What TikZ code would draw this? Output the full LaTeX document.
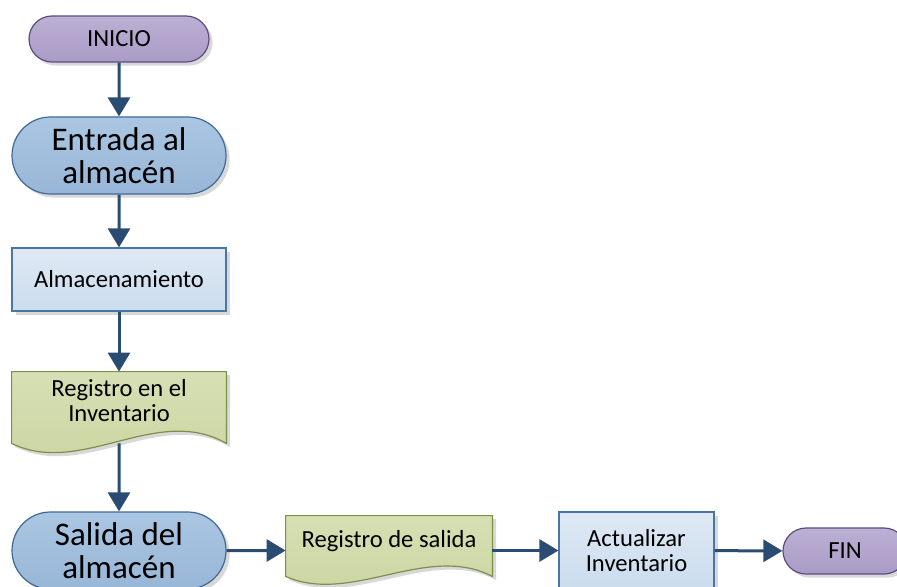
\documentclass[tikz,border=0pt]{standalone}
\usepackage{fontspec}
\setmainfont{Carlito}
\usetikzlibrary{shapes.misc,shadows,arrows.meta}

\definecolor{flechaC}{HTML}{2B4C72}
\definecolor{lilaT}{HTML}{BCB0D4}
\definecolor{lilaF}{HTML}{AA9BC6}
\definecolor{lilaB}{HTML}{5E4C80}
\definecolor{azulT}{HTML}{AAC6E2}
\definecolor{azulF}{HTML}{98B6D7}
\definecolor{azulB}{HTML}{3F6A98}
\definecolor{celesteT}{HTML}{DFE9F4}
\definecolor{celesteF}{HTML}{CADCEE}
\definecolor{celesteB}{HTML}{4A76A6}
\definecolor{verdeT}{HTML}{D7DFB4}
\definecolor{verdeF}{HTML}{CAD5A0}
\definecolor{verdeB}{HTML}{7D9048}

\begin{document}
\begin{tikzpicture}[x=0.5pt,y=-0.5pt,
    sombra/.style={drop shadow={shadow xshift=1.8pt,shadow yshift=-1.8pt,opacity=0.22,fill=black!70}},
    flecha/.style={-{Triangle[length=9.5pt,width=11pt]},line width=1.5pt,draw=flechaC},
    chico/.style={font=\fontsize{12.3}{12.5}\selectfont,align=center},
    grande/.style={font=\fontsize{16.5}{16.5}\selectfont,align=center},
    terminal/.style={rounded rectangle,draw=lilaB,line width=0.6pt,top color=lilaT,bottom color=lilaF,
        minimum height=23pt,inner sep=0pt,chico,sombra},
    etapa/.style={rounded rectangle,draw=azulB,line width=0.6pt,top color=azulT,bottom color=azulF,
        minimum width=107pt,minimum height=38.5pt,inner sep=0pt,grande,sombra},
    proceso/.style={rectangle,draw=celesteB,line width=0.6pt,top color=celesteT,bottom color=celesteF,
        inner sep=0pt,chico,sombra},
    docarea/.style={rectangle,draw=none,inner sep=0pt},
    documento/.style={draw=verdeB,line width=0.6pt,top color=verdeT,bottom color=verdeF,sombra}
  ]
  \useasboundingbox (0,0) rectangle (897,587);

  % columna izquierda
  \node[terminal,minimum width=90pt] (inicio) at (119,39) {INICIO};
  \node[etapa] (entrada) at (119,155.5) {Entrada al\\almacén};
  \node[proceso,minimum width=107pt,minimum height=31.5pt] (alm) at (119,279.5) {Almacenamiento};

  \node[docarea,minimum width=107pt,minimum height=35.5pt] (registro) at (119,407.5) {};
  \draw[documento] (registro.north west) -- (registro.north east) -- (registro.south east)
      .. controls +(-70,-40) and +(70,34) .. (registro.south west) -- cycle;
  \node[chico] (registro-txt) at (119,401) {Registro en el\\Inventario};

  \node[etapa] (salida) at (119,550.5) {Salida del\\almacén};

  % fila inferior
  \node[docarea,minimum width=103pt,minimum height=30pt] (regsal) at (389,546) {};
  \draw[documento] (regsal.north west) -- (regsal.north east) -- (regsal.south east)
      .. controls +(-66,-34) and +(66,29) .. (regsal.south west) -- cycle;
  \node[chico] (regsal-txt) at (389,541) {Registro de salida};

  \node[proceso,minimum width=77.5pt,minimum height=38.5pt] (actual) at (636.5,550.5) {Actualizar\\Inventario};
  \node[terminal,minimum width=62pt] (fin) at (845,551) {FIN};

  % flechas
  \draw[flecha] (inicio) -- (entrada);
  \draw[flecha] (entrada) -- (alm);
  \draw[flecha] (alm) -- (registro);
  \draw[flecha] (registro) -- (salida);
  \draw[flecha] (salida) -- (salida -| regsal.west);
  \draw[flecha] (regsal.east |- actual) -- (actual);
  \draw[flecha] (actual) -- (fin);
\end{tikzpicture}
\end{document}
